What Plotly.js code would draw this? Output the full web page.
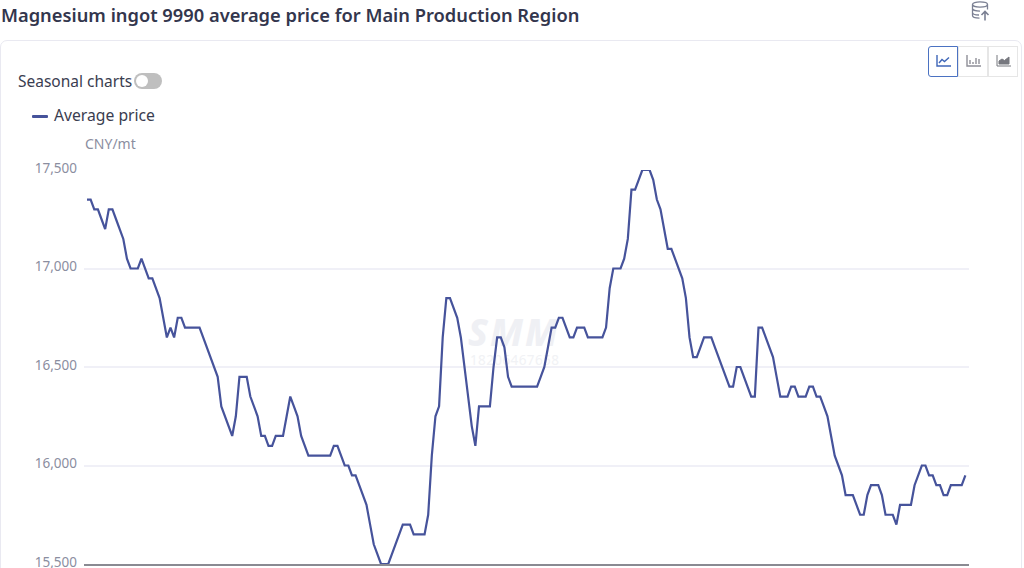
<!DOCTYPE html>
<html>
<head>
<meta charset="utf-8">
<script src="https://cdn.plot.ly/plotly-3.0.1.min.js"></script>
<style>
html,body{margin:0;padding:0;width:1024px;height:568px;overflow:hidden;background:#fff;font-family:"Noto Sans",sans-serif}
#card{position:absolute;left:0;top:40px;width:1022px;height:560px;border:1px solid #e9e9f1;border-radius:7px;box-sizing:border-box}
#plot{position:absolute;left:0;top:0;width:1024px;height:568px}
.t{position:absolute;white-space:nowrap}
#title{left:1px;top:3px;font-size:18.3px;font-weight:600;color:#33364d;line-height:24px}
#season{left:18px;top:70px;font-size:15.5px;color:#3a3d50;line-height:22px}
#toggle{position:absolute;left:134px;top:73px;width:28px;height:16px;border-radius:8px;background:#bfbfbf}
#toggle i{position:absolute;left:2px;top:2px;width:12px;height:12px;border-radius:6px;background:#fff}
#legbar{position:absolute;left:32px;top:115px;width:16px;height:3px;border-radius:1px}
#legtext{left:54px;top:104px;font-size:15.7px;color:#3a3d50;line-height:22px}
.btn{position:absolute;top:46px;width:30px;height:31px;box-sizing:border-box;border:1.5px solid #e6e6e6;background:#fff}
svg.ic{position:absolute;overflow:visible}
#wm1{left:468px;top:316px;font:italic 800 37px/32px "Noto Sans";letter-spacing:2px;color:#eff0f4}
#wm2{left:470px;top:353px;font:13.5px/14px "Noto Sans";letter-spacing:.4px;color:#f1f2f5}
</style>
</head>
<body>
<div id="card"></div>
<div id="wm1" class="t">SMM</div>
<div id="wm2" class="t">18206467658</div>
<div id="plot"></div>
<div id="title" class="t">Magnesium ingot 9990 average price for Main Production Region</div>
<div id="season" class="t">Seasonal charts</div>
<div id="toggle"><i></i></div>
<div id="legbar"></div>
<div id="legtext" class="t"></div>
<svg class="ic" style="left:971px;top:1px" width="20" height="21" viewBox="0 0 20 21" fill="none" stroke="#7b8093" stroke-width="1.3">
<ellipse cx="9" cy="3.5" rx="7.5" ry="2.6"/><path d="M1.5 3.5v11c0 1.4 3 2.6 7 2.6M16.5 3.5v5M1.5 7.5c0 1.4 3.4 2.6 7.5 2.6M1.5 11.5c0 1.4 3 2.5 6.5 2.5"/><path d="M14 19.5v-9M10.5 14l3.5-3.5 3.5 3.5" stroke-width="1.6"/>
</svg>
<div class="btn" style="left:928px;border:1.5px solid #4b72c2;border-radius:3px 0 0 3px;z-index:2">
<svg class="ic" style="left:7px;top:7px" width="16" height="14" fill="none" stroke="#3f66b8" stroke-width="1.4"><path d="M1 1v11h14"/><path d="M3 9l3-3.5 2.5 2 4.5-4"/></svg></div>
<div class="btn" style="left:958px">
<svg class="ic" style="left:7px;top:7px" width="16" height="14" fill="none" stroke="#8f8f98" stroke-width="1.4"><path d="M1 1v11h14M4 10V6M7 10V8M10 10V4M13 10V5"/></svg></div>
<div class="btn" style="left:988px;width:30px">
<svg class="ic" style="left:7px;top:7px" width="16" height="14" fill="#77787f" stroke="#77787f" stroke-width="1"><path d="M1 1v11h14" fill="none"/><path d="M3 10V7l3-2 2.5 1.5L13 3v7z"/></svg></div>
<script>
const seriesName = "Average price";
const unitLabel = "CNY/mt";
const tickValues = [15500, 16000, 16500, 17000, 17500];
const tickLabels = ["15,500", "16,000", "16,500", "17,000", "17,500"];
const averagePrice = [
17350,17350,17300,17300,17250,17200,17300,17300,17250,17200,
17150,17050,17000,17000,17000,17050,17000,16950,16950,16900,
16850,16750,16650,16700,16650,16750,16750,16700,16700,16700,
16700,16700,16650,16600,16550,16500,16450,16300,16250,16200,
16150,16250,16450,16450,16450,16350,16300,16250,16150,16150,
16100,16100,16150,16150,16150,16250,16350,16300,16250,16150,
16100,16050,16050,16050,16050,16050,16050,16050,16100,16100,
16050,16000,16000,15950,15950,15900,15850,15800,15700,15600,
15550,15500,15500,15500,15550,15600,15650,15700,15700,15700,
15650,15650,15650,15650,15750,16050,16250,16300,16650,16850,
16850,16800,16750,16650,16500,16350,16200,16100,16300,16300,
16300,16300,16500,16650,16650,16600,16450,16400,16400,16400,
16400,16400,16400,16400,16400,16450,16500,16600,16700,16700,
16750,16750,16700,16650,16650,16700,16700,16700,16650,16650,
16650,16650,16650,16700,16900,17000,17000,17000,17050,17150,
17400,17400,17450,17500,17500,17500,17450,17350,17300,17200,
17100,17100,17050,17000,16950,16850,16650,16550,16550,16600,
16650,16650,16650,16600,16550,16500,16450,16400,16400,16500,
16500,16450,16400,16350,16350,16700,16700,16650,16600,16550,
16450,16350,16350,16350,16400,16400,16350,16350,16350,16400,
16400,16350,16350,16300,16250,16150,16050,16000,15950,15850,
15850,15850,15800,15750,15750,15850,15900,15900,15900,15850,
15750,15750,15750,15700,15800,15800,15800,15800,15900,15950,
16000,16000,15950,15950,15900,15900,15850,15850,15900,15900,
15900,15900,15950
];
const lineColor = "#46539b";
document.getElementById("legtext").textContent = seriesName;
document.getElementById("legbar").style.background = lineColor;
Plotly.newPlot("plot", [{
  type: "scatter", mode: "lines", name: seriesName,
  y: averagePrice,
  line: {color: lineColor, width: 2.2},
  cliponaxis: false,
  hoverinfo: "y"
}], {
  width: 1024, height: 568,
  margin: {l: 84, r: 55, t: 169.5, b: 3.5, pad: 0, autoexpand: false},
  paper_bgcolor: "rgba(0,0,0,0)", plot_bgcolor: "rgba(0,0,0,0)",
  showlegend: false,
  xaxis: {range: [-0.83, 243], showgrid: false, zeroline: false, showline: true, linecolor: "#8a8a92", linewidth: 1.5, showticklabels: false, ticks: ""},
  yaxis: {range: [15500, 17500], tickmode: "array", tickvals: tickValues, ticktext: tickLabels,
    gridcolor: "#f0f0f7", gridwidth: 1.5, zeroline: false, showline: false, ticks: "", ticklabelstandoff: 6,
    ticklabeloverflow: "allow", ticklabelshift: -2,
    tickfont: {family: "Noto Sans", size: 13.5, color: "#8b8e9f"}, automargin: false},
  annotations: [{xref: "paper", yref: "paper", x: 0, y: 1, yshift: 27, xanchor: "left", yanchor: "middle",
    text: unitLabel, showarrow: false, borderpad: 0, font: {family: "Noto Sans", size: 14, color: "#8b8e9f"}}]
}, {displayModeBar: false});
</script>
</body>
</html>
